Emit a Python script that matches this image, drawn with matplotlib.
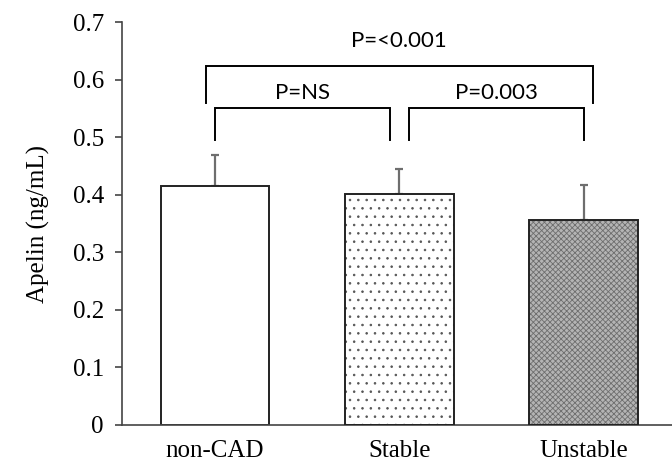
import matplotlib
matplotlib.use("Agg")
import matplotlib.pyplot as plt

# data
groups = ["non-CAD", "Stable", "Unstable"]
apelin = [0.415, 0.401, 0.356]
err_up = [0.055, 0.044, 0.061]
y_ticks = [0, 0.1, 0.2, 0.3, 0.4, 0.5, 0.6, 0.7]
y_tick_labels = ["0", "0.1", "0.2", "0.3", "0.4", "0.5", "0.6", "0.7"]

# brackets: (x_left, x_right, y_top, y_end, label, label_y)
brackets = [
    (-0.05, 2.05, 0.624, 0.559, "P=<0.001", 0.667),
    (0.0, 0.95, 0.551, 0.495, "P=NS", 0.578),
    (1.05, 2.0, 0.551, 0.495, "P=0.003", 0.578),
]

serif = "Liberation Serif"
plt.rcParams["hatch.linewidth"] = 0.6

fig = plt.figure(figsize=(6.72, 4.66), dpi=100)
ax = fig.add_axes([0.1815, 0.088, 0.8185, 0.864])

x = list(range(len(groups)))
width = 0.59

# non-CAD: plain white
ax.bar(x[0], apelin[0], width, color="white", edgecolor="#222222", linewidth=1.4, zorder=2)

# Stable: sparse small dots
ax.bar(x[1], apelin[1], width, color="white", edgecolor="#555555", hatch="..", linewidth=0, zorder=2)
ax.bar(x[1], apelin[1], width, color="none", edgecolor="#222222", linewidth=1.4, zorder=3)

# Unstable: dense grey crosshatch
ax.bar(x[2], apelin[2], width, color="#b4b4b4", edgecolor="#6e6e6e", hatch="xxxxxx", linewidth=0, zorder=2)
ax.bar(x[2], apelin[2], width, color="none", edgecolor="#222222", linewidth=1.4, zorder=3)

ax.errorbar(x, apelin, yerr=[[0] * 3, err_up], fmt="none", ecolor="#6e6e6e",
            elinewidth=1.6, capsize=3, capthick=1.6, zorder=1)

for xl, xr, yt, ye, lab, yl in brackets:
    ax.plot([xl, xl, xr, xr], [ye, yt, yt, ye], color="black", lw=1.4,
            solid_joinstyle="miter", clip_on=False, zorder=4)
    ax.text((xl + xr) / 2, yl, lab, ha="center", va="center", fontsize=16,
            family="Lato", color="black")

ax.set_xlim(-0.505, 2.48)
ax.set_ylim(0, 0.7)
ax.set_yticks(y_ticks)
ax.set_yticklabels(y_tick_labels, family=serif, fontsize=18)
ax.set_xticks(x)
ax.set_xticklabels(groups, family=serif, fontsize=18)
ax.tick_params(axis="x", length=0, pad=11)
ax.tick_params(axis="y", direction="out", length=5, width=1.2, color="#444444", pad=8)
ax.set_ylabel("Apelin (ng/mL)", family=serif, fontsize=18, labelpad=16)

for side in ["top", "right"]:
    ax.spines[side].set_visible(False)
for side in ["left", "bottom"]:
    ax.spines[side].set_color("#444444")
    ax.spines[side].set_linewidth(1.2)

fig.savefig("out.png", dpi=100)
